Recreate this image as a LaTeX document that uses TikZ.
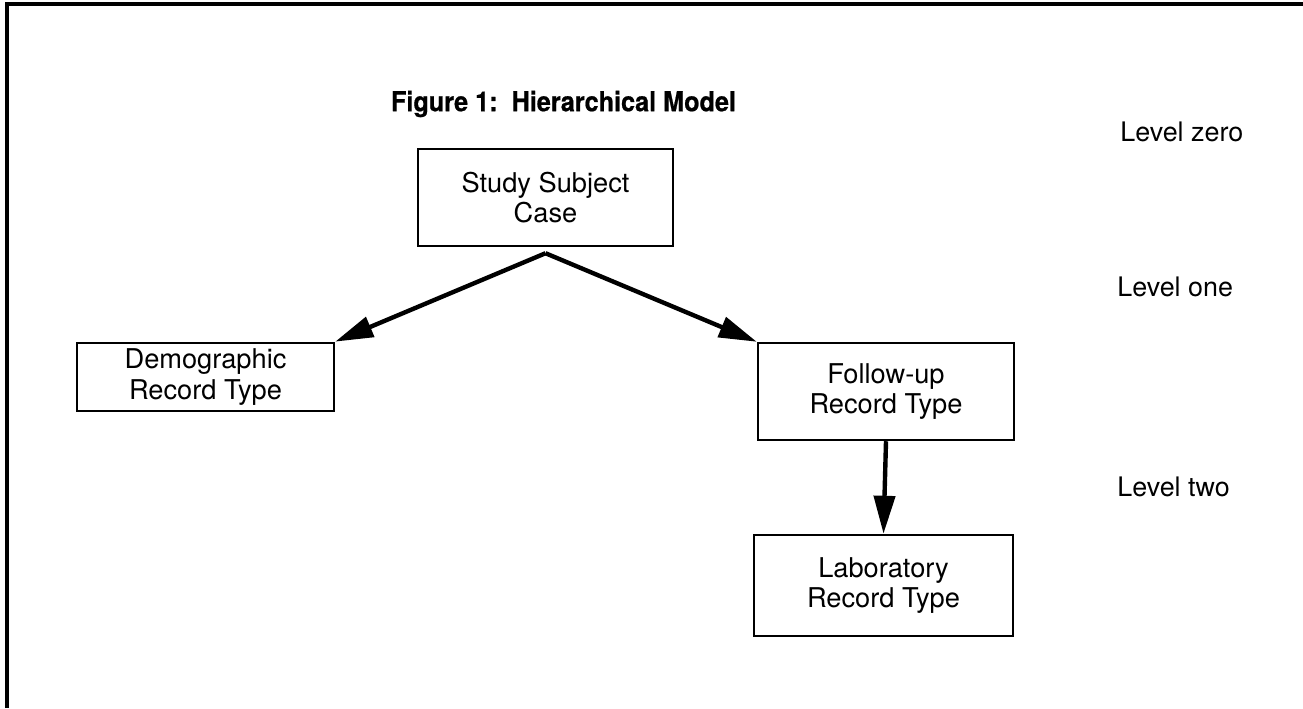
\documentclass[tikz,border=0pt]{standalone}
\usepackage{fontspec}
\setmainfont{TeX Gyre Heros}
\newfontfamily\titlefont[FakeStretch=0.92, FakeBold=0.6]{TeX Gyre Heros}
\usetikzlibrary{arrows.meta}

\begin{document}
\begin{tikzpicture}[
    recbox/.style={draw, line width=1.4pt, align=center, font=\fontsize{15.5}{17.5}\selectfont},
    link/.style={-{Triangle[length=0.76cm, width=0.42cm]}, line width=2.5pt},
    lvl/.style={anchor=west, inner sep=0pt, font=\fontsize{15.3}{17}\selectfont}
]
        \useasboundingbox (0,0) rectangle (26.06,14.16);
        \draw[line width=1.8pt] (0.14,0) -- (0.14,14.08) -- (26.06,14.08);
        \node[font=\titlefont\bfseries\fontsize{15.6}{18}\selectfont] (title) at (11.27,12.08) {Figure 1:\ \ Hierarchical Model};

        % records
        \node[recbox, minimum width=5.1cm, minimum height=1.94cm] (case) at (10.91,10.21) {Study Subject\\Case};
        \node[recbox, minimum width=5.14cm, minimum height=1.36cm] (demo) at (4.11,6.62) {Demographic\\Record Type};
        \node[recbox, minimum width=5.12cm, minimum height=1.94cm] (fup) at (17.72,6.33) {Follow-up\\Record Type};
        \node[recbox, minimum width=5.18cm, minimum height=2.02cm] (lab) at (17.67,2.45) {Laboratory\\Record Type};

        \coordinate (split) at ([yshift=-0.12cm]case.south);
        \draw[link] (split) -- (demo.north east);
        \draw[link] (split) -- (fup.north west);
        \draw[link] (fup.south) -- (lab.north);

        % levels
        \node[lvl] (lvzero) at (22.4,11.52) {Level zero};
        \node[lvl] (lvone) at (22.34,8.42) {Level one};
        \node[lvl] (lvtwo) at (22.34,4.42) {Level two};
    \end{tikzpicture}
\end{document}
